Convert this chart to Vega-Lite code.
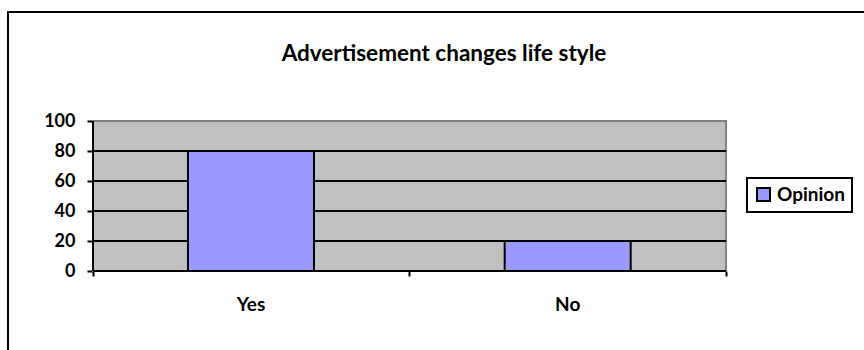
{
  "$schema": "https://vega.github.io/schema/vega-lite/v6.json",
  "width": 864,
  "height": 348,
  "autosize": "none",
  "padding": {"left": 8, "top": 12, "right": 0, "bottom": 0},
  "background": "white",
  "config": {
    "view": {"stroke": "black", "strokeWidth": 2, "fill": "white"},
    "font": "Lato"
  },
  "title": {
    "text": "Advertisement changes life style",
    "font": "Lato",
    "fontSize": 22.5,
    "fontWeight": "bold",
    "color": "black",
    "anchor": "middle",
    "baseline": "alphabetic",
    "offset": 0,
    "dy": 71,
    "dx": 4
  },
  "datasets": {
    "survey": [
      {"response": "Yes", "percent": 80},
      {"response": "No", "percent": 20}
    ],
    "gridlines": [
      {"level": 20},
      {"level": 40},
      {"level": 60},
      {"level": 80}
    ],
    "frame": [{}]
  },
  "resolve": {"scale": {"x": "independent"}},
  "layer": [
    {
      "layer": [
        {
          "data": {"name": "frame"},
          "mark": {"type": "rect", "fill": "#C0C0C0", "stroke": "#808080", "strokeWidth": 2},
          "encoding": {
            "x": {"datum": 0, "type": "quantitative",
              "scale": {"domain": [-0.26856, 2.4613], "nice": false, "zero": false},
              "axis": {"orient": "bottom", "offset": -89, "values": [0, 1, 2], "domain": false, "labels": false, "grid": false, "ticks": true, "tickSize": 5, "tickWidth": 2, "tickColor": "black", "title": null}},
            "x2": {"datum": 2},
            "y": {"datum": 0, "type": "quantitative",
              "scale": {"domain": [-59.333, 172.667], "nice": false, "zero": false},
              "axis": {"orient": "left", "offset": -85, "values": [0, 20, 40, 60, 80, 100], "domain": false, "grid": false,
                "tickSize": 6, "tickWidth": 2, "tickColor": "black",
                "labelFont": "Lato", "labelFontSize": 18, "labelFontWeight": "bold", "labelColor": "black", "labelPadding": 12, "title": null}},
            "y2": {"datum": 100}
          }
        },
        {
          "data": {"name": "gridlines"},
          "mark": {"type": "rule", "stroke": "black", "strokeWidth": 2},
          "encoding": {
            "x": {"datum": 0, "type": "quantitative",
              "scale": {"domain": [-0.26856, 2.4613], "nice": false, "zero": false},
              "axis": {"orient": "bottom", "offset": -89, "values": [0, 1, 2], "domain": false, "labels": false, "grid": false, "ticks": true, "tickSize": 5, "tickWidth": 2, "tickColor": "black", "title": null}},
            "x2": {"datum": 2},
            "y": {"field": "level", "type": "quantitative",
              "scale": {"domain": [-59.333, 172.667], "nice": false, "zero": false},
              "axis": {"orient": "left", "offset": -85, "values": [0, 20, 40, 60, 80, 100], "domain": false, "grid": false,
                "tickSize": 6, "tickWidth": 2, "tickColor": "black",
                "labelFont": "Lato", "labelFontSize": 18, "labelFontWeight": "bold", "labelColor": "black", "labelPadding": 12, "title": null}}
          }
        },
        {
          "data": {"name": "frame"},
          "mark": {"type": "rule", "stroke": "black", "strokeWidth": 2},
          "encoding": {
            "x": {"datum": 0, "type": "quantitative",
              "scale": {"domain": [-0.26856, 2.4613], "nice": false, "zero": false},
              "axis": {"orient": "bottom", "offset": -89, "values": [0, 1, 2], "domain": false, "labels": false, "grid": false, "ticks": true, "tickSize": 5, "tickWidth": 2, "tickColor": "black", "title": null}},
            "y": {"datum": 0, "type": "quantitative",
              "scale": {"domain": [-59.333, 172.667], "nice": false, "zero": false},
              "axis": {"orient": "left", "offset": -85, "values": [0, 20, 40, 60, 80, 100], "domain": false, "grid": false,
                "tickSize": 6, "tickWidth": 2, "tickColor": "black",
                "labelFont": "Lato", "labelFontSize": 18, "labelFontWeight": "bold", "labelColor": "black", "labelPadding": 12, "title": null}},
            "y2": {"datum": 100}
          }
        },
        {
          "data": {"name": "frame"},
          "mark": {"type": "rule", "stroke": "black", "strokeWidth": 2},
          "encoding": {
            "x": {"datum": 0, "type": "quantitative",
              "scale": {"domain": [-0.26856, 2.4613], "nice": false, "zero": false},
              "axis": {"orient": "bottom", "offset": -89, "values": [0, 1, 2], "domain": false, "labels": false, "grid": false, "ticks": true, "tickSize": 5, "tickWidth": 2, "tickColor": "black", "title": null}},
            "x2": {"datum": 2},
            "y": {"datum": 0, "type": "quantitative",
              "scale": {"domain": [-59.333, 172.667], "nice": false, "zero": false},
              "axis": {"orient": "left", "offset": -85, "values": [0, 20, 40, 60, 80, 100], "domain": false, "grid": false,
                "tickSize": 6, "tickWidth": 2, "tickColor": "black",
                "labelFont": "Lato", "labelFontSize": 18, "labelFontWeight": "bold", "labelColor": "black", "labelPadding": 12, "title": null}}
          }
        }
      ]
    },
    {
      "data": {"name": "survey"},
      "mark": {"type": "bar", "stroke": "black", "strokeWidth": 2},
      "encoding": {
        "x": {"field": "response", "type": "nominal", "sort": ["Yes", "No"],
          "scale": {"paddingInner": 0.6021, "paddingOuter": 0.6651, "align": 0.4272},
          "axis": {"orient": "bottom", "offset": -89, "domain": false, "ticks": false, "grid": false, "labelAngle": 0,
            "labelFont": "Lato", "labelFontSize": 19, "labelFontWeight": "bold", "labelColor": "black", "labelPadding": 24, "title": null}},
        "y": {"field": "percent", "type": "quantitative",
          "scale": {"domain": [-59.333, 172.667], "nice": false, "zero": false},
          "axis": {"orient": "left", "offset": -85, "values": [0, 20, 40, 60, 80, 100], "domain": false, "grid": false,
            "tickSize": 6, "tickWidth": 2, "tickColor": "black",
            "labelFont": "Lato", "labelFontSize": 18, "labelFontWeight": "bold", "labelColor": "black", "labelPadding": 12, "title": null}},
        "color": {"datum": "Opinion", "type": "nominal",
          "scale": {"range": ["#9999FF"]},
          "legend": {"orient": "none", "legendX": 739, "legendY": 166, "title": null,
            "strokeColor": "black", "fillColor": "white", "padding": 7,
            "symbolType": "square", "symbolSize": 169, "symbolStrokeColor": "black", "symbolStrokeWidth": 2, "symbolOpacity": 1,
            "labelFont": "Lato", "labelFontSize": 19, "labelFontWeight": "bold", "labelColor": "black", "labelOffset": 4,
            "encode": {"legend": {"update": {"strokeWidth": {"value": 2}}}}}}
      }
    }
  ]
}
